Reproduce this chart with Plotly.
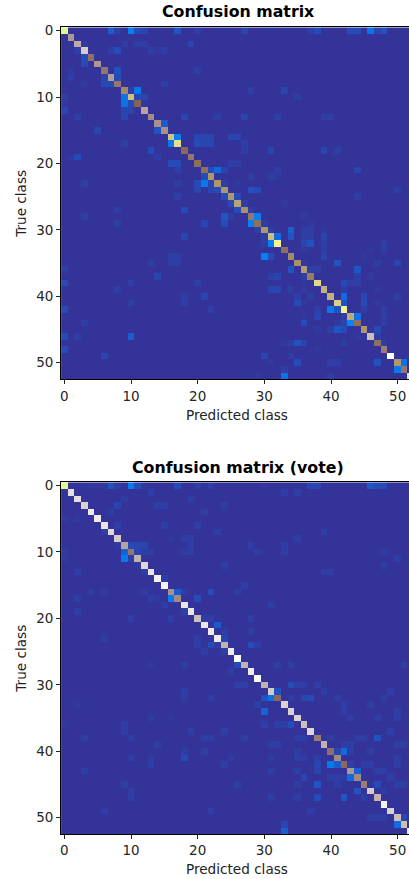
import numpy as np
import plotly.graph_objects as go
from plotly.subplots import make_subplots

N = 53
tick_labels = [0, 10, 20, 30, 40, 50]
titles = ["Confusion matrix", "Confusion matrix (vote)"]
x_label = "Predicted class"
y_label = "True class"

terrain = [[0.0, "rgb(51,51,153)"], [0.02, "rgb(49,56,158)"], [0.03, "rgb(46,62,165)"], [0.06, "rgb(34,82,190)"],
           [0.10, "rgb(20,100,215)"], [0.15, "rgb(0,135,250)"], [0.25, "rgb(0,204,102)"],
           [0.5, "rgb(255,255,153)"], [0.75, "rgb(128,92,84)"], [1.0, "rgb(255,255,255)"]]

top_diag = [.47, .84, .87, .92, .78, .84, .79, .85, .79, .68, .6, .74, .86, .82, .83, .83, .59, .55,
            .73, .79, .72, .72, .66, .66, .66, .66, .64, .67, .79, .72, .66, .6, .52, .72, .68, .67,
            .65, .7, .56, .62, .62, .57, .52, .63, .72, .66, .9, .72, .8, 1.0, .66, .79, .95]
vote_diag = [.47, .95, .95, .93, .97, .97, .96, .94, .92, .86, .79, .88, .94, .96, .98, .98, .83, .82,
             .96, .96, .9, .96, .97, .97, .88, .97, 1.0, .88, .97, .99, .88, .92, .77, .93, .93, .93,
             .9, .94, .8, .88, .78, .82, .73, .84, .82, .8, .92, .88, .98, .93, .9, .9, .97]

# (row, column, value)
top_off = [
 (0,7,.08),(0,8,.03),(0,10,.14),(0,11,.05),(0,12,.04),(0,17,.06),(0,20,.03),(0,27,.04),(0,38,.05),(0,37,.03),
 (0,43,.05),(0,44,.05),(0,46,.12),(0,47,.04),(0,48,.06),
 (2,3,.02),(2,9,.03),(2,11,.03),(2,12,.03),(2,19,.04),(3,2,.03),(3,7,.03),(3,8,.05),(3,13,.03),(3,14,.02),(3,15,.03),
 (4,3,.05),(5,3,.05),(6,1,.02),(6,8,.06),(6,20,.03),(7,1,.03),(7,6,.04),(7,8,.05),(8,3,.02),(8,6,.05),(8,7,.05),(8,15,.03),
 (9,10,.03),(9,11,.13),(9,28,.03),(9,33,.04),(10,0,.03),(10,9,.12),(10,11,.04),(10,12,.04),(10,35,.03),
 (11,0,.02),(11,9,.12),(11,10,.05),(11,12,.02),(12,0,.04),(12,9,.04),(12,10,.04),(13,2,.03),(13,9,.04),(13,18,.04),
 (13,23,.03),(13,27,.04),(13,32,.03),(13,39,.03),(13,40,.03),(14,15,.08),(15,5,.04),(15,14,.06),
 (16,17,.14),(16,20,.04),(16,21,.04),(16,22,.04),(16,25,.04),(16,26,.04),
 (17,9,.03),(17,16,.13),(17,20,.05),(17,21,.04),(17,22,.04),(17,27,.03),(18,13,.05),(18,27,.03),(18,31,.04),(18,39,.04),(18,41,.03),
 (19,1,.02),(19,2,.05),(19,14,.03),(20,16,.05),(20,17,.05),(20,25,.03),(20,26,.03),(21,17,.03),(21,22,.05),(21,23,.11),(21,24,.04),(21,32,.03),(21,44,.04),
 (22,21,.05),(22,28,.03),(22,31,.03),(22,32,.02),(23,3,.03),(23,17,.03),(23,20,.05),(23,21,.13),(23,22,.04),(23,24,.03),
 (24,20,.04),(24,22,.04),(24,23,.05),(24,28,.06),(24,29,.05),(24,50,.03),(25,17,.03),(25,24,.05),(25,26,.05),(25,44,.03),
 (26,25,.05),(26,27,.03),(27,8,.03),(27,18,.05),(27,26,.05),(27,28,.03),(28,3,.03),(28,24,.07),(28,29,.14),(28,25,.03),
 (29,8,.03),(29,21,.04),(29,24,.05),(29,28,.14),(29,30,.03),
 (30,29,.03),(30,31,.03),(30,34,.09),(30,36,.03),(30,37,.03),(30,39,.02),(31,18,.04),(31,30,.03),(31,32,.11),(31,34,.06),(31,36,.03),(31,37,.03),(31,39,.04),
 (32,30,.03),(32,31,.14),(32,36,.04),(32,37,.06),(32,39,.03),(32,48,.03),(33,48,.03),(33,39,.03),(33,36,.02),
 (34,16,.03),(34,17,.03),(34,30,.14),(34,31,.05),(34,39,.04),(35,13,.03),(35,16,.03),(35,17,.03),(35,41,.06),(35,47,.03),(35,50,.04),
 (36,0,.03),(36,34,.06),(36,44,.07),(36,38,.03),(36,37,.03),(37,14,.04),(37,31,.03),(37,32,.04),(37,36,.03),(37,44,.03),
 (38,0,.05),(38,10,.03),(38,20,.03),(38,42,.05),(38,43,.03),(38,44,.03),(39,8,.03),(39,31,.04),(39,32,.04),(39,34,.03),(39,42,.03),(39,36,.02),
 (40,18,.03),(40,21,.04),(40,37,.03),(40,42,.11),(40,45,.04),(40,50,.03),(40,35,.03),(41,10,.03),(41,18,.03),(41,35,.05),(41,42,.06),(41,45,.05),(41,36,.02),
 (42,0,.05),(42,22,.03),(42,38,.03),(42,40,.13),(42,41,.06),(42,45,.03),(42,48,.03),(43,38,.04),(43,42,.03),(43,44,.12),(43,48,.03),
 (44,3,.03),(44,36,.05),(44,42,.04),(44,43,.15),(44,48,.03),(44,41,.02),(45,40,.03),(45,41,.07),(45,42,.05),(45,47,.05),(45,38,.02),
 (46,0,.05),(46,2,.03),(46,10,.08),(46,47,.03),(47,35,.06),(47,36,.04),(47,42,.03),(47,34,.03),(47,48,.03),(47,33,.02),
 (48,0,.05),(48,38,.02),(49,6,.04),(49,30,.04),(49,34,.03),
 (50,35,.05),(50,40,.03),(50,47,.06),(50,51,.12),(50,41,.03),(50,31,.02),(51,50,.13),(51,33,.03),(52,33,.12),(52,40,.03),(52,29,.02),
 (23,26,.02),(26,33,.02),(28,36,.02),(29,37,.02),(33,46,.02),(34,45,.02),(35,36,.02),(37,46,.02),(38,36,.02),(39,47,.02),(41,47,.02),(43,36,.02),(46,44,.02),
]
vote_off = [
 (0,3,.015),(0,4,.015),(0,5,.015),(0,6,.015),(0,7,.06),(0,8,.03),(0,10,.13),(0,11,.05),(0,12,.02),(0,17,.05),(0,20,.03),(0,22,.03),(0,30,.02),
 (0,37,.04),(0,38,.04),(0,46,.07),(0,47,.05),(0,48,.05),(1,13,.03),(1,33,.03),(1,35,.03),(2,9,.03),(2,19,.03),(3,8,.04),(3,14,.03),(3,15,.03),(3,24,.03),
 (4,7,.03),(4,21,.03),(5,0,.02),(5,2,.02),(6,8,.03),(6,15,.03),(6,20,.03),(7,6,.03),(7,23,.03),(7,39,.03),(8,16,.02),(8,18,.03),(8,19,.03),(8,35,.03),
 (9,8,.02),(9,10,.05),(9,11,.04),(9,12,.04),(9,19,.03),(9,28,.03),(9,33,.03),(10,0,.02),(10,9,.1),(10,11,.04),(10,12,.03),(10,13,.03),(10,18,.03),(10,19,.03),(10,29,.03),(10,33,.03),(10,48,.03),
 (11,0,.02),(11,9,.13),(11,10,.03),(11,50,.03),(12,11,.02),(12,24,.03),(12,48,.03),(13,2,.03),(13,12,.03),(13,39,.03),(13,40,.03),(14,15,.03),(15,27,.03),
 (16,4,.03),(16,6,.02),(16,12,.03),(16,17,.08),(16,18,.03),(16,22,.05),(16,26,.03),(17,2,.03),(17,13,.03),(17,14,.02),(17,16,.13),(17,20,.05),(18,15,.03),(18,31,.03),
 (19,2,.03),(19,18,.03),(20,10,.03),(20,16,.03),(20,21,.03),(20,22,.03),(20,28,.03),(21,23,.08),(22,24,.03),(22,28,.03),(23,6,.03),(23,20,.03),(23,24,.04),
 (24,20,.03),(24,22,.05),(24,23,.03),(24,28,.05),(24,29,.03),(25,21,.03),(25,24,.03),(27,13,.02),(27,18,.03),(27,26,.05),(27,32,.03),(27,34,.03),(27,51,.03),(28,25,.03),
 (30,26,.03),(30,27,.03),(30,34,.05),(30,35,.03),(30,36,.03),(30,38,.03),(31,18,.03),(31,32,.06),(31,39,.03),(31,49,.03),
 (32,18,.03),(32,22,.03),(32,30,.06),(32,31,.12),(32,34,.03),(32,36,.04),(32,37,.05),(32,41,.03),(32,48,.03),(33,2,.02),(33,29,.03),(33,42,.03),(33,46,.03),
 (34,30,.1),(34,42,.03),(34,50,.03),(35,13,.03),(35,16,.02),(35,43,.03),(35,47,.03),(35,50,.03),(36,0,.02),(36,9,.03),(36,30,.03),(36,32,.03),(36,33,.03),(36,34,.05),
 (37,9,.03),(37,19,.03),(37,24,.03),(37,49,.03),(38,3,.03),(38,10,.03),(38,21,.03),(38,22,.03),(38,27,.03),(38,35,.03),(38,36,.03),(38,40,.03),(38,44,.03),(38,45,.03),(38,47,.06),
 (39,14,.03),(39,31,.03),(39,32,.03),(39,42,.03),(39,43,.03),(39,50,.03),(39,51,.03),(40,18,.03),(40,21,.03),(40,35,.03),(40,41,.04),(40,42,.11),(40,43,.03),(40,46,.03),
 (41,10,.03),(41,13,.03),(41,18,.05),(41,25,.03),(41,31,.03),(41,35,.03),(41,36,.03),(41,38,.03),(41,50,.03),(42,13,.03),(42,24,.03),(42,38,.04),(42,40,.13),(42,41,.08),(42,43,.03),(42,45,.03),(42,46,.03),(42,50,.03),
 (43,3,.03),(43,31,.03),(43,35,.03),(43,38,.04),(43,44,.09),(43,47,.03),(43,48,.03),(44,36,.04),(44,40,.03),(44,41,.03),(44,42,.03),(44,43,.11),(44,49,.03),
 (45,9,.03),(45,26,.03),(45,35,.03),(45,38,.07),(45,41,.03),(45,47,.05),(45,50,.03),(45,51,.03),(46,10,.03),(46,44,.06),(46,48,.03),(47,10,.03),(47,31,.03),(47,35,.03),(47,38,.05),(47,42,.07),(47,45,.03),
 (49,6,.03),(49,22,.03),(49,37,.03),(50,46,.03),(50,47,.03),(50,48,.03),(50,51,.04),(51,33,.04),(51,50,.11),(52,33,.09),
]


def build(diag, off):
    z = np.zeros((N, N))
    for i, v in enumerate(diag):
        z[i, i] = v
    for r, c, v in off:
        z[r, c] = v
    return z


W, H = 409, 879
fig = make_subplots(rows=2, cols=1)
for i, (d, o) in enumerate([(top_diag, top_off), (vote_diag, vote_off)]):
    fig.add_trace(go.Heatmap(z=build(d, o), colorscale=terrain, zmin=0, zmax=1, showscale=False,
                             zsmooth=False, hoverinfo="skip"), row=i + 1, col=1)

tickfont = dict(family="DejaVu Sans", size=13.5, color="#262626")
y_domains = [(22.5, 376.5), (480, 834)]
title_y = [7, 465.5]
xlabel_y = [412, 869]
for i, (top, bot) in enumerate(y_domains):
    s = "" if i == 0 else "2"
    fig.layout["xaxis" + s].update(
        domain=[60.2 / W, 1], range=[-0.5, 51.7], tickvals=tick_labels, ticks="outside", ticklen=4, tickwidth=1,
        tickcolor="#222", tickfont=tickfont, showline=True, linecolor="black", linewidth=1, mirror=True,
        showgrid=False, zeroline=False)
    fig.layout["yaxis" + s].update(
        domain=[1 - bot / H, 1 - top / H], range=[52.5, -0.5], tickvals=tick_labels, ticks="outside", ticklen=4, tickwidth=1,
        tickcolor="#222", tickfont=tickfont, showline=True, linecolor="black", linewidth=1,
        showgrid=False, zeroline=False,
        title=dict(text=y_label, font=dict(family="DejaVu Sans", size=13.6, color="#222"), standoff=6))
    fig.add_annotation(text="<b>" + titles[i] + "</b>", xref="paper", yref="paper", x=237.5 / W, y=1 - title_y[i] / H,
                       xanchor="center", yanchor="middle", showarrow=False,
                       font=dict(family="DejaVu Sans", size=15.8, color="black"))
    fig.add_annotation(text=x_label, xref="paper", yref="paper", x=237 / W, y=1 - xlabel_y[i] / H,
                       xanchor="center", yanchor="middle", showarrow=False,
                       font=dict(family="DejaVu Sans", size=13.6, color="#222"))

fig.update_layout(width=W, height=H, margin=dict(l=0, r=0, t=0, b=0), paper_bgcolor="white", plot_bgcolor="white",
                  showlegend=False)
fig.write_html("out.html", config={"displayModeBar": False},
               post_script="document.body.style.margin='0';document.body.style.overflow='hidden';")
